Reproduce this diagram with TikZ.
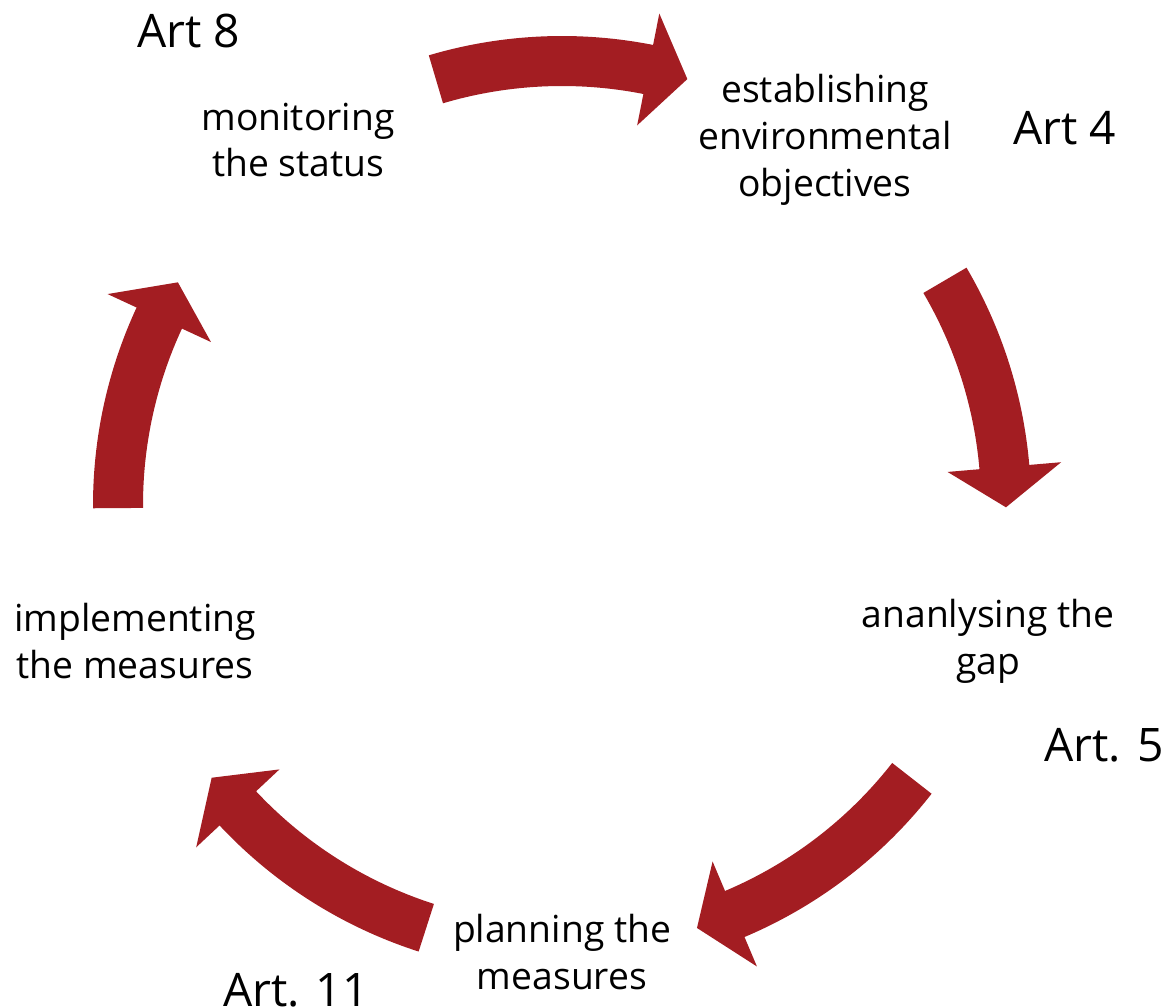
\documentclass[tikz,border=0pt]{standalone}
\usepackage{fontspec}
\setmainfont{Open Sans}
\definecolor{arrowred}{RGB}{163,29,34}
\tikzset{
  lbl/.style={align=center, inner sep=0pt, font=\fontsize{21.2}{26.6}\selectfont},
  artlbl/.style={inner sep=0pt, font=\fontsize{26.3}{30}\selectfont},
  cyc/.style={fill=arrowred},
}
% #1 tail angle, #2 tip angle, #3 head base angle
\newcommand{\cycarrow}[3]{%
  \fill[cyc, shift={(C)}] (#1:469) arc[start angle=#1, end angle=#3, radius=469]
    -- (#3:501) -- (#2:444) -- (#3:387) -- (#3:419)
    arc[start angle=#3, end angle=#1, radius=419] -- cycle;}
\begin{document}
\begin{tikzpicture}[x=0.02cm,y=0.02cm]
\useasboundingbox (0,0) rectangle (1164,1008);
\coordinate (C) at (562,503);
\cycarrow{106.5}{73.6}{78.8}
\cycarrow{30.4}{-0.3}{4.9}
\cycarrow{-38.0}{-72.3}{-67.1}
\cycarrow{-107.8}{-142.1}{-136.9}
\cycarrow{180.4}{149.9}{155.1}
\node[artlbl] (a8) at (189,977) {Art 8};
\node[lbl] (mon) at (298,868) {monitoring\\the status};
\node[lbl] (est) at (825,868) {establishing\\environmental\\objectives};
\node[artlbl] (a4) at (1065,880) {Art 4};
\node[lbl] (gap) at (988,367) {ananlysing the\\gap};
\node[artlbl] (a5) at (1104,263) {Art. 5};
\node[lbl] (plan) at (562,56) {planning the\\measures};
\node[artlbl] (a11) at (296,18) {Art. 11};
\node[lbl] (impl) at (135,367) {implementing\\the measures};
\end{tikzpicture}
\end{document}
